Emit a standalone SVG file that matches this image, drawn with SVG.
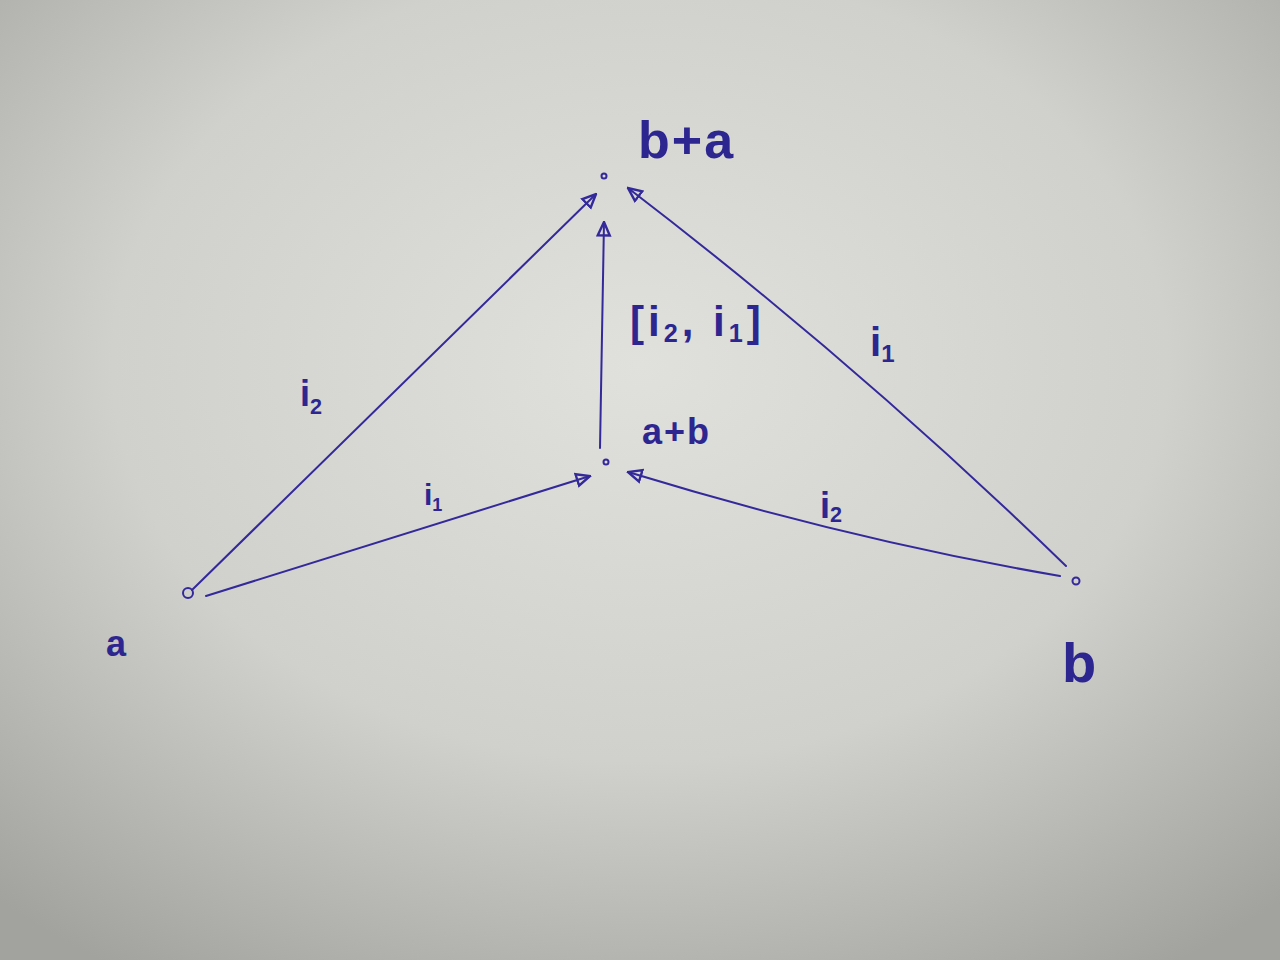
<svg xmlns="http://www.w3.org/2000/svg" width="1280" height="960" viewBox="0 0 1280 960">
<defs>
<radialGradient id="paper" cx="0.5" cy="0.38" r="0.75">
<stop offset="0" stop-color="#e0e0dc"/>
<stop offset="0.55" stop-color="#d0d0cc"/>
<stop offset="1" stop-color="#a2a29e"/>
</radialGradient>
<marker id="arr" viewBox="0 0 12 12" refX="11" refY="6" markerWidth="16" markerHeight="16" markerUnits="userSpaceOnUse" orient="auto">
<path d="M1,1.5 L11,6 L1,10.5 Z" fill="none" stroke="#33299a" stroke-width="1.8"/>
</marker>
<style>
.e{fill:none;stroke:#33299a;stroke-width:2;stroke-linecap:round}
.t{font-family:"Liberation Sans","DejaVu Sans",sans-serif;fill:#2e2690;font-weight:bold}
.d{fill:none;stroke:#33299a;stroke-width:2}
.s{font-size:0.6em}
</style>
</defs>
<rect width="1280" height="960" fill="url(#paper)"/>
<g id="connectors">
<path class="e" d="M192,590 L596,194" marker-end="url(#arr)"/>
<path class="e" d="M206,596 L590,476" marker-end="url(#arr)"/>
<path class="e" d="M1060,576 Q850,540 628,472" marker-end="url(#arr)"/>
<path class="e" d="M1066,566 Q858,364 628,188" marker-end="url(#arr)"/>
<path class="e" d="M600,448 L604,222" marker-end="url(#arr)"/>
<text class="t" x="300" y="406" font-size="36">i<tspan class="s" dy="8">2</tspan></text>
<text class="t" x="424" y="505" font-size="30">i<tspan class="s" dy="6">1</tspan></text>
<text class="t" x="630" y="336" font-size="42" letter-spacing="4">[i<tspan class="s" dy="6">2</tspan><tspan dy="-6">, i</tspan><tspan class="s" dy="6">1</tspan><tspan dy="-6">]</tspan></text>
<text class="t" x="870" y="356" font-size="40">i<tspan class="s" dy="6">1</tspan></text>
<text class="t" x="820" y="518" font-size="36">i<tspan class="s" dy="4">2</tspan></text>
</g>
<g id="node-ba">
<circle class="d" cx="604" cy="176" r="2.5"/>
<text class="t" x="638" y="158" font-size="52" letter-spacing="2">b+a</text>
</g>
<g id="node-apb">
<circle class="d" cx="606" cy="462" r="2.5"/>
<text class="t" x="642" y="444" font-size="36" letter-spacing="2">a+b</text>
</g>
<g id="node-a">
<circle class="d" cx="188" cy="593" r="5"/>
<text class="t" x="106" y="656" font-size="36">a</text>
</g>
<g id="node-b">
<circle class="d" cx="1076" cy="581" r="3.5"/>
<text class="t" x="1062" y="682" font-size="56">b</text>
</g>
</svg>
